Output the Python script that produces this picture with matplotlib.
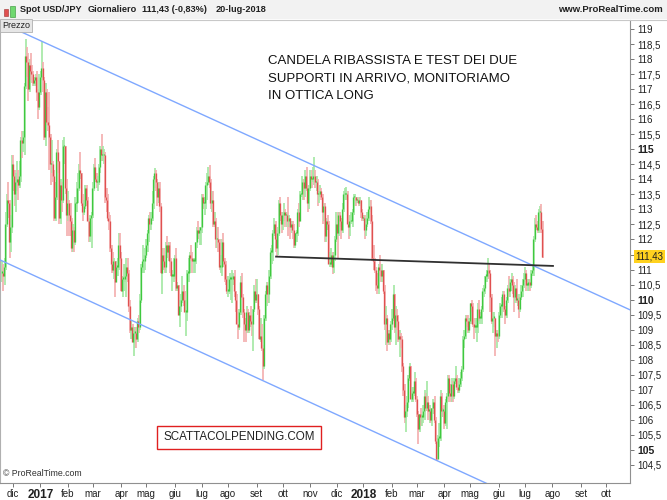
import numpy as np
import pandas as pd
import matplotlib
matplotlib.use("Agg")
import matplotlib.pyplot as plt
from matplotlib.patches import Rectangle

plt.rcParams['font.family'] = ['Liberation Sans', 'DejaVu Sans']

# ---------------- data ----------------
start_date = "2016-11-18"
end_date = "2018-07-20"
axis_end_date = "2018-10-31"

opens = [
    # nov 2016
    110.9,110.9,110.8,111.1,112.5,113.3,113.2,111.9,112.4,
    # dic 2016
    114.5,114.1,113.5,113.9,114.0,113.8,114.1,115.3,115.2,115.4,117.1,118.1,117.9,117.0,117.8,117.6,117.5,117.2,117.3,117.4,116.9,116.4,
    # gen 2017
    116.9,117.4,117.7,117.3,115.4,116.9,115.9,115.8,115.4,114.5,114.5,114.1,112.7,113.4,114.9,114.6,112.7,113.8,113.3,115.1,115.1,113.7,
    # feb 2017
    112.8,113.2,112.8,112.6,111.7,112.3,111.9,113.2,113.2,113.7,114.3,114.2,113.2,112.9,113.1,113.7,113.3,112.6,112.1,112.7,
    # mar 2017
    112.8,113.7,114.4,114.0,113.9,113.9,114.4,115.0,114.8,114.8,114.8,113.4,113.3,112.7,112.6,111.7,111.2,111.0,111.3,110.6,111.1,111.1,111.8,
    # apr 2017
    111.4,110.3,110.7,110.7,110.8,111.1,110.9,109.8,109.0,109.1,108.6,108.9,108.9,108.7,109.3,109.1,110.0,111.1,111.3,111.3,
    # mag 2017
    111.5,111.8,112.2,112.7,112.5,112.7,113.2,114.0,114.2,113.9,113.4,113.7,113.1,110.9,111.5,111.3,111.1,111.8,111.6,111.8,111.3,110.8,110.8,
    # giu 2017
    110.8,111.4,110.4,110.5,109.5,109.8,110.0,110.3,110.0,109.6,109.6,110.9,110.9,111.5,111.4,111.3,111.3,111.3,111.9,112.3,112.2,112.3,
    # lug 2017
    112.4,113.4,113.2,113.2,113.8,113.9,114.1,113.9,113.2,113.3,112.5,112.6,112.0,112.0,111.9,111.1,111.1,111.9,111.3,111.2,110.7,
    # ago 2017
    110.3,110.3,110.7,110.7,110.7,110.8,110.3,110.0,109.2,109.1,109.6,110.6,110.1,109.6,109.2,109.0,109.6,109.0,109.5,109.3,109.2,109.7,110.3,
    # set 2017
    110.0,110.2,109.7,108.7,108.8,108.4,107.8,109.4,110.2,110.5,110.2,110.8,111.6,111.6,112.2,112.5,112.0,111.7,112.2,113.2,112.8,
    # ott 2017
    112.5,112.8,112.9,112.8,112.8,112.6,112.7,112.4,112.5,112.3,111.8,112.2,112.2,112.9,112.6,113.5,113.5,113.9,113.7,114.1,113.7,113.2,
    # nov 2017
    113.7,114.1,114.0,114.0,114.1,113.9,113.9,113.5,113.5,113.6,113.4,112.9,113.1,112.1,112.6,112.5,111.2,111.2,111.5,111.1,111.5,112.0,
    # dic 2017
    112.5,112.2,112.8,112.6,112.3,113.0,113.5,113.5,113.5,112.5,112.4,112.6,112.6,112.9,113.4,113.4,113.3,113.3,113.2,113.3,112.9,
    # gen 2018
    112.7,112.7,112.3,112.5,112.7,113.0,113.1,112.6,111.4,111.3,111.0,110.5,110.4,111.1,111.0,110.8,111.0,110.3,109.2,109.4,108.6,108.9,108.7,
    # feb 2018
    109.2,109.4,110.2,109.1,109.5,109.3,108.7,108.8,108.7,107.8,107.0,106.1,106.3,106.6,107.4,107.8,106.7,106.9,106.9,107.3,
    # mar 2018
    106.7,106.2,105.7,106.2,106.1,106.1,106.3,106.8,106.4,106.6,106.3,106.3,106.0,106.4,106.6,106.0,105.3,104.7,105.4,105.4,106.8,106.3,
    # apr 2018
    106.3,105.9,106.6,106.8,107.4,106.9,106.8,107.2,106.8,107.3,107.4,107.1,107.0,107.2,107.4,107.7,108.7,108.8,109.4,109.3,109.0,
    # mag 2018
    109.3,109.9,109.8,109.2,109.1,109.1,109.1,109.7,109.4,109.4,109.7,110.3,110.4,110.8,110.8,111.0,110.9,110.1,109.3,109.4,109.4,108.8,108.9,
    # giu 2018
    108.8,109.5,109.8,109.8,110.2,109.7,109.5,110.0,110.4,110.3,110.6,110.7,110.5,110.1,110.4,110.0,110.0,109.7,110.1,110.3,110.5,
    # lug 2018
    110.7,110.9,110.5,110.5,110.6,110.5,110.9,111.0,112.0,112.5,112.4,112.3,112.9,112.9,112.36,
]

highs = [
    111.3,111.2,111.4,112.9,113.5,113.9,113.3,112.8,114.8,
    114.8,114.3,114.2,114.6,114.3,114.6,115.4,115.6,115.6,117.2,118.66,118.4,118.2,118.0,118.2,117.8,117.6,117.4,117.5,117.6,117.0,117.5,
    117.6,118.6,117.9,117.4,117.2,117.0,116.4,116.9,115.5,115.3,114.6,114.3,113.9,115.0,115.3,114.6,114.0,113.9,115.3,115.4,115.1,114.0,
    113.6,113.3,113.2,112.7,112.5,112.4,113.4,113.9,114.2,114.5,114.9,114.2,113.5,113.3,113.8,113.8,113.4,112.7,112.8,112.9,
    113.9,114.5,114.7,114.2,114.1,114.5,115.1,115.5,115.1,115.0,114.9,113.7,113.5,112.9,112.8,111.8,111.6,111.4,111.3,111.3,111.4,112.2,112.2,
    111.6,110.8,111.2,111.2,111.4,111.4,111.0,110.0,109.3,109.2,109.1,109.1,109.1,109.4,109.5,110.2,111.2,111.8,111.5,111.7,
    112.0,112.3,112.8,112.9,112.9,113.6,114.1,114.37,114.3,114.0,113.9,113.9,113.2,111.7,111.7,111.5,111.9,112.1,111.9,111.9,111.4,111.0,111.4,
    111.5,111.7,110.6,110.5,110.0,110.2,110.8,110.5,110.3,110.0,111.0,111.4,111.6,111.8,111.6,111.4,111.4,111.9,112.4,112.6,112.4,112.4,
    113.5,113.5,113.4,113.9,114.2,114.4,114.49,114.0,113.6,113.6,112.9,112.7,112.4,112.4,112.0,111.5,112.0,112.2,111.4,111.3,110.8,
    110.8,110.9,110.8,111.0,110.9,111.0,110.3,110.2,109.6,109.7,110.8,110.9,110.2,109.7,109.4,109.8,109.7,109.6,109.8,109.5,109.7,110.5,110.7,
    110.7,110.2,109.8,109.4,109.2,108.5,109.5,110.3,110.6,110.6,111.0,111.7,111.8,112.3,112.7,112.6,112.3,112.4,113.3,113.4,112.9,
    112.9,113.2,113.0,112.9,113.4,112.8,112.7,112.6,112.6,112.5,112.2,112.3,113.0,113.2,113.6,114.1,114.0,114.0,114.3,114.4,113.8,113.8,
    114.3,114.3,114.4,114.73,114.3,114.1,114.0,113.6,113.8,113.7,113.5,113.2,113.2,112.7,112.8,112.6,111.6,111.7,111.6,111.6,112.1,112.9,
    112.9,112.9,112.9,112.7,113.2,113.6,113.7,113.75,113.6,112.8,112.8,112.9,113.0,113.5,113.5,113.4,113.4,113.4,113.4,113.3,113.0,
    112.8,112.8,112.7,112.9,113.4,113.3,113.3,112.8,111.8,111.4,111.1,110.9,111.2,111.5,111.2,111.2,111.0,110.5,109.8,109.5,109.0,109.0,109.3,
    109.7,110.5,110.2,109.8,109.7,109.5,109.0,108.9,108.8,107.9,107.2,106.5,106.8,107.5,107.9,107.8,107.1,107.1,107.6,107.4,
    106.8,106.3,106.2,106.4,106.2,106.5,107.0,106.9,107.3,106.8,106.5,106.4,106.4,106.7,106.8,106.1,105.4,105.5,105.9,107.0,106.9,106.4,
    106.5,106.7,106.9,107.5,107.5,107.2,107.4,107.3,107.4,107.8,107.5,107.3,107.4,107.6,107.8,108.8,109.0,109.5,109.5,109.5,109.4,
    109.9,110.0,109.9,109.4,109.4,109.4,109.9,110.0,109.6,109.8,110.4,110.5,110.8,111.0,111.39,111.2,111.0,110.2,109.6,109.6,109.4,109.0,109.0,
    109.6,109.9,110.1,110.3,110.3,109.8,110.1,110.5,110.8,110.7,110.9,110.8,110.6,110.5,110.7,110.2,110.1,110.2,110.5,110.7,110.9,
    111.1,111.0,110.7,110.7,110.7,111.0,111.2,112.1,112.7,112.8,112.6,113.0,113.1,113.17,112.6,
]

lows = [
    110.6,110.3,110.5,111.0,112.4,112.7,111.4,111.6,112.2,
    113.6,113.1,112.9,113.6,113.3,113.7,113.9,114.7,114.9,114.8,117.0,117.4,116.6,116.9,117.3,117.2,117.1,117.1,117.1,116.6,116.0,116.3,
    116.8,117.3,116.9,115.3,115.1,115.8,115.6,114.3,113.8,114.2,113.9,112.6,112.6,113.3,114.2,112.5,112.5,112.9,113.2,114.5,113.5,112.1,
    112.6,112.1,112.1,111.6,111.6,111.6,111.8,112.9,113.2,113.6,114.0,113.1,112.6,112.8,113.0,113.1,112.6,111.9,111.9,111.7,
    112.7,113.6,113.9,113.7,113.6,113.8,114.2,114.6,114.6,114.5,113.2,112.9,112.6,112.3,111.6,110.9,110.9,110.7,110.1,110.6,110.8,111.0,111.3,
    110.3,110.1,110.3,110.6,110.1,110.6,109.6,108.9,108.7,108.6,108.13,108.4,108.4,108.6,108.9,109.0,109.9,110.9,110.9,111.0,
    111.4,111.6,111.9,112.3,112.3,112.6,113.0,113.7,113.6,113.1,113.2,112.9,110.9,110.2,111.0,110.9,110.9,111.4,111.3,110.9,110.8,110.3,110.6,
    110.7,110.3,110.3,109.5,109.1,109.6,109.9,109.8,109.6,108.8,109.3,110.6,110.9,111.3,110.9,110.9,110.9,111.2,111.7,112.0,111.8,111.8,
    112.2,113.0,112.8,113.0,113.3,113.8,113.7,113.0,112.9,112.4,112.4,111.7,111.7,111.6,111.0,110.9,110.8,111.1,110.6,110.5,110.2,
    110.1,110.2,110.0,109.9,110.5,110.1,109.6,109.2,108.7,109.0,109.5,110.0,109.4,108.6,108.6,108.9,108.9,108.9,109.1,108.8,108.3,109.6,109.9,
    109.9,109.5,108.7,108.6,108.3,107.32,107.7,109.3,109.8,109.9,109.9,110.7,111.2,111.3,112.1,111.6,111.45,111.5,112.1,112.6,112.2,
    112.3,112.6,112.4,112.4,112.1,112.4,112.0,112.2,112.0,111.7,111.7,111.9,112.1,112.4,112.6,113.4,113.3,113.3,113.4,113.6,112.9,113.0,
    113.6,113.7,113.9,113.8,113.7,113.6,113.1,113.2,113.4,113.3,112.5,112.6,111.9,111.9,112.3,111.2,111.1,111.1,110.84,110.9,111.3,111.9,
    111.4,112.1,112.4,112.0,112.2,112.9,113.3,113.3,112.5,112.0,112.1,112.5,112.4,112.8,113.1,113.1,113.2,113.1,113.1,112.7,112.6,
    112.6,112.0,112.1,112.4,112.6,112.9,112.5,111.3,111.0,110.9,110.3,110.2,110.2,110.8,110.6,110.6,110.2,109.0,108.5,108.3,108.5,108.5,108.6,
    109.0,109.3,108.9,108.5,109.0,108.6,108.1,108.4,107.6,106.8,105.9,105.6,106.1,106.4,107.3,106.7,106.6,106.6,106.8,106.6,
    106.1,105.2,105.6,105.8,105.8,105.9,106.0,106.3,106.3,106.0,105.9,105.9,105.8,106.2,105.9,105.2,104.64,104.7,105.1,105.3,106.1,106.1,
    105.7,105.8,105.7,106.7,106.6,106.6,106.6,106.6,106.7,107.2,107.0,106.9,106.9,107.1,107.3,107.6,108.4,108.7,109.1,108.9,108.9,
    109.2,109.6,109.1,108.7,108.9,108.6,108.9,109.3,109.2,109.2,109.6,110.1,110.2,110.6,110.7,110.7,109.6,109.2,108.9,109.1,108.12,108.4,108.6,
    108.7,109.4,109.4,109.6,109.6,109.2,109.4,109.9,110.1,110.1,110.3,110.2,109.6,109.9,109.9,109.8,109.4,109.6,110.0,110.1,110.4,
    110.6,110.3,110.3,110.3,110.3,110.4,110.8,110.8,111.9,112.3,112.2,112.2,112.6,112.2,111.4,
]

closes = [
    110.9,110.8,111.1,112.5,113.3,113.2,111.9,112.4,114.5,
    114.1,113.5,113.9,114.0,113.8,114.1,115.3,115.2,115.4,117.1,118.1,117.9,117.0,117.8,117.6,117.5,117.2,117.3,117.4,116.9,116.4,116.9,
    117.4,117.7,117.3,115.4,116.9,115.9,115.8,115.4,114.5,114.5,114.1,112.7,113.4,114.9,114.6,112.7,113.8,113.3,115.1,115.1,113.7,112.8,
    113.2,112.8,112.6,111.7,112.3,111.9,113.2,113.2,113.7,114.3,114.2,113.2,112.9,113.1,113.7,113.3,112.6,112.1,112.7,112.8,
    113.7,114.4,114.0,113.9,113.9,114.4,115.0,114.8,114.8,114.8,113.4,113.3,112.7,112.6,111.7,111.2,111.0,111.3,110.6,111.1,111.1,111.8,111.4,
    110.3,110.7,110.7,110.8,111.1,110.9,109.8,109.0,109.1,108.6,108.9,108.9,108.7,109.3,109.1,110.0,111.1,111.3,111.3,111.5,
    111.8,112.2,112.7,112.5,112.7,113.2,114.0,114.2,113.9,113.4,113.7,113.1,110.9,111.5,111.3,111.1,111.8,111.6,111.8,111.3,110.8,110.8,110.8,
    111.4,110.4,110.5,109.5,109.8,110.0,110.3,110.0,109.6,109.6,110.9,110.9,111.5,111.4,111.3,111.3,111.3,111.9,112.3,112.2,112.3,112.4,
    113.4,113.2,113.2,113.8,113.9,114.1,113.9,113.2,113.3,112.5,112.6,112.0,112.0,111.9,111.1,111.1,111.9,111.3,111.2,110.7,110.3,
    110.3,110.7,110.7,110.7,110.8,110.3,110.0,109.2,109.1,109.6,110.6,110.1,109.6,109.2,109.0,109.6,109.0,109.5,109.3,109.2,109.7,110.3,110.0,
    110.2,109.7,108.7,108.8,108.4,107.8,109.4,110.2,110.5,110.2,110.8,111.6,111.6,112.2,112.5,112.0,111.7,112.2,113.2,112.8,112.5,
    112.8,112.9,112.8,112.8,112.6,112.7,112.4,112.5,112.3,111.8,112.2,112.2,112.9,112.6,113.5,113.5,113.9,113.7,114.1,113.7,113.2,113.7,
    114.1,114.0,114.0,114.1,113.9,113.9,113.5,113.5,113.6,113.4,112.9,113.1,112.1,112.6,112.5,111.2,111.2,111.5,111.1,111.5,112.0,112.5,
    112.2,112.8,112.6,112.3,113.0,113.5,113.5,113.5,112.5,112.4,112.6,112.6,112.9,113.4,113.4,113.3,113.3,113.2,113.3,112.9,112.7,
    112.7,112.3,112.5,112.7,113.0,113.1,112.6,111.4,111.3,111.0,110.5,110.4,111.1,111.0,110.8,111.0,110.3,109.2,109.4,108.6,108.9,108.7,109.2,
    109.4,110.2,109.1,109.5,109.3,108.7,108.8,108.7,107.8,107.0,106.1,106.3,106.6,107.4,107.8,106.7,106.9,106.9,107.3,106.7,
    106.2,105.7,106.2,106.1,106.1,106.3,106.8,106.4,106.6,106.3,106.3,106.0,106.4,106.6,106.0,105.3,104.7,105.4,105.4,106.8,106.3,106.3,
    105.9,106.6,106.8,107.4,106.9,106.8,107.2,106.8,107.3,107.4,107.1,107.0,107.2,107.4,107.7,108.7,108.8,109.4,109.3,109.0,109.3,
    109.9,109.8,109.2,109.1,109.1,109.1,109.7,109.4,109.4,109.7,110.3,110.4,110.8,110.8,111.0,110.9,110.1,109.3,109.4,109.4,108.8,108.9,108.8,
    109.5,109.8,109.8,110.2,109.7,109.5,110.0,110.4,110.3,110.6,110.7,110.5,110.1,110.4,110.0,110.0,109.7,110.1,110.3,110.5,110.7,
    110.9,110.5,110.5,110.6,110.5,110.9,111.0,112.0,112.5,112.4,112.3,112.9,112.9,112.36,111.43,
]

# trend lines drawn on the chart (bar index, price)
upper_channel_x = [8.9, 505.6]
upper_channel_y = [119.03, 109.66]
lower_channel_x = [-1.5, 364.7]
lower_channel_y = [111.32, 104.37]
support_x = [220.7, 443.6]
support_y = [111.43, 111.12]

last_price = 111.43
price_ticks = [104.5, 105, 105.5, 106, 106.5, 107, 107.5, 108, 108.5, 109, 109.5, 110,
               110.5, 111, 111.5, 112, 112.5, 113, 113.5, 114, 114.5, 115, 115.5, 116,
               116.5, 117, 117.5, 118, 118.5, 119]
bold_price_ticks = [105, 110, 115]
hidden_price_ticks = [111.5]   # covered by the last-price label
month_labels = ["dic", "2017", "feb", "mar", "apr", "mag", "giu", "lug", "ago", "set", "ott", "nov",
                "dic", "2018", "feb", "mar", "apr", "mag", "giu", "lug", "ago", "set", "ott"]
year_labels = ["2017", "2018"]

header_items = ["Spot USD/JPY", "Giornaliero", "111,43 (-0,83%)", "20-lug-2018"]
note_text = "CANDELA RIBASSISTA E TEST DEI DUE\nSUPPORTI IN ARRIVO, MONITORIAMO\nIN OTTICA LONG"
stamp_text = "SCATTACOLPENDING.COM"

# ---------------- figure ----------------
W, H = 667, 500
fig = plt.figure(figsize=(W / 100, H / 100), dpi=100)
fig.patch.set_facecolor("white")

def fx(px):
    return px / W

def fy(py):
    return 1 - py / H

ax_left, ax_right, ax_top, ax_bottom = 0, 630, 20, 483
ax = fig.add_axes([fx(ax_left), fy(ax_bottom), fx(ax_right - ax_left), (ax_bottom - ax_top) / H])
ax.set_facecolor("white")

o = np.array(opens); hi = np.array(highs); lo = np.array(lows); c = np.array(closes)
n = len(c)
dates = pd.bdate_range(start_date, end_date)
x = np.arange(n)

up = c >= o
wick_col = np.where(up, "#a6e8a6", "#f4b0b0")
body_col = np.where(up, "#3fc83f", "#e05050")
ax.vlines(x + 0.25, lo, hi, colors=list(wick_col), linewidth=1.25)
b_lo = np.minimum(o, c)
b_hi = np.maximum(np.maximum(o, c), b_lo + 0.05)
ax.vlines(x - 0.2, b_lo, b_hi, colors=list(body_col), linewidth=0.95)

x_min, x_max = -1.52, 505.6
y_min, y_max = 103.90, 119.30
ax.set_xlim(x_min, x_max)
ax.set_ylim(y_min, y_max)

def extend(xs, ys, x0, x1):
    s = (ys[1] - ys[0]) / (xs[1] - xs[0])
    return [x0, x1], [ys[0] + s * (x0 - xs[0]), ys[0] + s * (x1 - xs[0])]

ux, uy = extend(upper_channel_x, upper_channel_y, upper_channel_x[0], x_max)
lx, ly = extend(lower_channel_x, lower_channel_y, x_min, x_max)
ax.plot(ux, uy, color="#7fa8ff", lw=1.0, zorder=3)
ax.plot(lx, ly, color="#7fa8ff", lw=1.0, zorder=3)
ax.plot(support_x, support_y, color="#303030", lw=1.3, zorder=4)

# axes styling
ax.spines["top"].set_visible(False)
ax.spines["left"].set_color("#b0b0b0")
ax.spines["right"].set_color("#909090")
ax.spines["bottom"].set_color("#909090")
for s in ax.spines.values():
    s.set_linewidth(0.8)

ax.yaxis.tick_right()
ax.set_yticks(price_ticks)
ax.set_yticklabels(["" if v in hidden_price_ticks else ("%g" % v).replace(".", ",") for v in price_ticks])
ax.tick_params(axis="y", direction="out", length=3, width=0.6, color="#606060",
               labelsize=7, pad=2, labelcolor="#202020")
for lab, v in zip(ax.get_yticklabels(), price_ticks):
    if v in bold_price_ticks:
        lab.set_fontweight("bold")
        lab.set_fontsize(7.5)

# month ticks
full_days = pd.bdate_range(start_date, axis_end_date)
month_starts = pd.date_range("2016-12-01", "2018-10-01", freq="MS")
month_pos = [int(np.searchsorted(full_days, m)) for m in month_starts]
ax.set_xticks(month_pos)
ax.set_xticklabels(month_labels)
ax.tick_params(axis="x", direction="out", length=3, width=0.6, color="#606060",
               labelsize=7, pad=1.5, labelcolor="#202020")
for lab in ax.get_xticklabels():
    if lab.get_text() in year_labels:
        lab.set_fontweight("bold")
        lab.set_fontsize(8.5)

# last price marker
ax.annotate(("%.2f" % last_price).replace(".", ","), xy=(1, last_price), xycoords=("axes fraction", "data"),
            xytext=(4, 0), textcoords="offset points", va="center", ha="left", fontsize=7,
            color="#202020", bbox=dict(boxstyle="square,pad=0.12", fc="#ffd21f", ec="none"),
            annotation_clip=False, zorder=10)

# header bar
fig.patches.append(Rectangle((0, fy(19)), 1, 19 / H, transform=fig.transFigure,
                             facecolor="#f2f2f2", edgecolor="none", zorder=0))
fig.add_artist(plt.Line2D([0, 1], [fy(19.5), fy(19.5)], transform=fig.transFigure,
                          color="#c8c8c8", lw=0.8))
# tiny candle icon
fig.patches.append(Rectangle((fx(4), fy(16)), fx(4), 7 / H, transform=fig.transFigure,
                             facecolor="#e05050", edgecolor="#a03030", lw=0.4))
fig.patches.append(Rectangle((fx(10), fy(17)), fx(5), 11 / H, transform=fig.transFigure,
                             facecolor="#6fd86f", edgecolor="#2f902f", lw=0.4))
head_x = [20, 88, 142, 216]
for t, hx in zip(header_items, head_x):
    fig.text(fx(hx), fy(10), t, fontsize=6.6, fontweight="bold", color="#202020",
             va="center", ha="left")
fig.text(fx(663), fy(10), "www.ProRealTime.com", fontsize=6.8, fontweight="bold",
         color="#202020", va="center", ha="right")

# Prezzo box
fig.text(fx(2), fy(25.5), "Prezzo", fontsize=6.5, color="#202020", va="center", ha="left",
         bbox=dict(boxstyle="square,pad=0.2", fc="#e6e6e6", ec="#b0b0b0", lw=0.6), zorder=20)

# copyright
fig.text(fx(3), fy(473), "\u00a9 ProRealTime.com", fontsize=6.3, color="#303030", va="center", ha="left")

# annotation text
fig.text(fx(268), fy(55), note_text, fontsize=9.5, color="#111111", va="top", ha="left",
         linespacing=1.62)

# stamp
fig.text(fx(239), fy(437.5), stamp_text, fontsize=8.4, color="#222222", va="center", ha="center",
         bbox=dict(boxstyle="square,pad=0.5", fc="white", ec="#e02020", lw=1.0), zorder=20)

fig.savefig("out.png", dpi=100)
